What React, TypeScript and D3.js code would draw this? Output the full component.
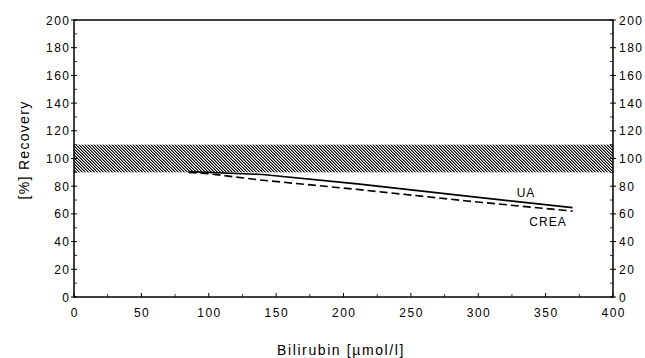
import React from "react";
import * as d3 from "d3";

const xTicks = [0, 50, 100, 150, 200, 250, 300, 350, 400];
const yTicks = [0, 20, 40, 60, 80, 100, 120, 140, 160, 180, 200];
const yMinor = [10, 30, 50, 70, 90, 110, 130, 150, 170, 190];
const xMinor = [25, 75, 125, 175, 225, 275, 325, 375];
const band = [90, 110];
const uaX = [85, 140, 212, 290, 370];
const uaY = [90.5, 88.5, 81.5, 73, 64.5];
const creaX = [85, 100, 138, 212, 290, 370];
const creaY = [90, 89, 84.5, 77.5, 69.5, 62];

const W = 645, H = 358;
const L = 74, R = 613, T = 20, B = 297;

export default function App() {
  const x = d3.scaleLinear().domain([0, 400]).range([L, R]);
  const y = d3.scaleLinear().domain([0, 200]).range([B, T]);
  const line = d3.line<[number, number]>().x(d => x(d[0])).y(d => y(d[1]));
  const ua = line(uaX.map((v, i) => [v, uaY[i]]) as [number, number][]);
  const crea = line(creaX.map((v, i) => [v, creaY[i]]) as [number, number][]);
  const font = "'Liberation Sans', Arial, sans-serif";
  const ls = 1.5;
  const rows = [0, 1, 2];
  return (
    <svg width={W} height={H} style={{ position: "absolute", left: 0, top: 0, background: "#fff" }} fontFamily={font}>
      <defs>
        <pattern id="hatch" patternUnits="userSpaceOnUse" width={3} height={3}>
          <rect x={0} y={0} width={3} height={3} fill="#fff" />
          {rows.map(r => (
            <g key={r}>
              <rect x={r} y={r} width={1} height={1} fill="#000" shapeRendering="crispEdges" />
              <rect x={(r + 1) % 3} y={r} width={1} height={1} fill="#888" shapeRendering="crispEdges" />
            </g>
          ))}
        </pattern>
      </defs>
      <rect x={0} y={0} width={W} height={H} fill="#fff" />
      <rect x={x(0)} y={y(band[1])} width={x(400) - x(0)} height={y(band[0]) - y(band[1])} fill="url(#hatch)" />
      <path d={ua ?? ""} fill="none" stroke="#000" strokeWidth={1.6} />
      <path d={crea ?? ""} fill="none" stroke="#000" strokeWidth={1.6} strokeDasharray="8,4" />
      <text x={526} y={197} fontSize={12} letterSpacing={1} textAnchor="middle">UA</text>
      <text x={548} y={226} fontSize={12} letterSpacing={1} textAnchor="middle">CREA</text>
      <rect x={L} y={T} width={R - L} height={B - T} fill="none" stroke="#000" strokeWidth={1.5} />
      {yTicks.map(t => (
        <g key={"y" + t}>
          <line x1={L - 3} x2={L + 3} y1={y(t)} y2={y(t)} stroke="#000" strokeWidth={1} />
          <line x1={R - 3} x2={R + 3} y1={y(t)} y2={y(t)} stroke="#000" strokeWidth={1} />
          <text x={69 + ls} y={y(t) + 4.5} fontSize={12} letterSpacing={ls} textAnchor="end">{t}</text>
          <text x={619} y={y(t) + 4.5} fontSize={12} letterSpacing={ls} textAnchor="start">{t}</text>
        </g>
      ))}
      {yMinor.map(t => (
        <g key={"ym" + t}>
          <line x1={L} x2={L + 3} y1={y(t)} y2={y(t)} stroke="#000" strokeWidth={0.8} />
          <line x1={R - 3} x2={R} y1={y(t)} y2={y(t)} stroke="#000" strokeWidth={0.8} />
        </g>
      ))}
      {xTicks.map(t => (
        <g key={"x" + t}>
          <line x1={x(t)} x2={x(t)} y1={B} y2={B - 4} stroke="#000" strokeWidth={1} />
          <text x={x(t) + ls / 2} y={317} fontSize={12} letterSpacing={ls} textAnchor="middle">{t}</text>
        </g>
      ))}
      {xMinor.map(t => (
        <line key={"xm" + t} x1={x(t)} x2={x(t)} y1={B} y2={B - 3} stroke="#000" strokeWidth={0.8} />
      ))}
      <text transform={`translate(29,150) rotate(-90)`} fontSize={14} letterSpacing={1.3} textAnchor="middle">[%] Recovery</text>
      <text x={341} y={355} fontSize={14} letterSpacing={1.6} textAnchor="middle">Bilirubin [µmol/l]</text>
    </svg>
  );
}
